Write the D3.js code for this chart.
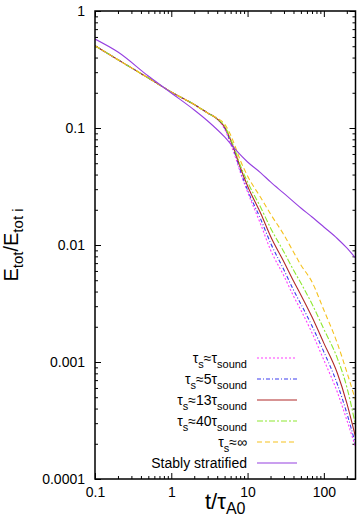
<!DOCTYPE html>
<html>
<head>
<meta charset="utf-8">
<script src="https://cdn.jsdelivr.net/npm/d3@7"></script>
<style>
  body { margin: 0; background: #fff; }
  svg { display: block; font-family: "Liberation Sans", Arial, sans-serif; }
</style>
</head>
<body>
<svg id="chart" width="358" height="521"></svg>
<script>
// sampled times (t / tau_A0)
var tEarly = [0.1, 0.2, 0.5, 1, 2, 3, 4];
var tLate = [5, 6, 7, 8, 10, 15, 20, 30, 40, 50, 70, 100, 150, 200, 260];

// common early decay of the five damped runs
var eEarly = [0.505, 0.3835, 0.2676, 0.2031, 0.1588, 0.1343, 0.1194];

var eTau1 = [0.0981, 0.0730, 0.0554, 0.0421, 0.0284, 0.0148, 0.00907, 0.00543, 0.00366, 0.00278, 0.00177, 0.00104, 0.000554, 0.000319, 0.000188];
var eTau5 = [0.1000, 0.0759, 0.0576, 0.0438, 0.0295, 0.0164, 0.0104, 0.00611, 0.00412, 0.00313, 0.00203, 0.00122, 0.000649, 0.000366, 0.000199];
var eTau13 = [0.1020, 0.0790, 0.0599, 0.0464, 0.0319, 0.0184, 0.0119, 0.00716, 0.00492, 0.00374, 0.00242, 0.00145, 0.000805, 0.000446, 0.000229];
var eTau40 = [0.1040, 0.0805, 0.0624, 0.0483, 0.0346, 0.0207, 0.0140, 0.00871, 0.00611, 0.00473, 0.00313, 0.00191, 0.00108, 0.000611, 0.000289];
var eTauInf = [0.1082, 0.0871, 0.0675, 0.0533, 0.0389, 0.0252, 0.0184, 0.0122, 0.00871, 0.00675, 0.00483, 0.00278, 0.00145, 0.000821, 0.000473];
var eEarlyInf = [0.505, 0.3835, 0.2676, 0.2031, 0.1588, 0.1343, 0.1217];

var tStrat = [0.1, 0.2, 0.5, 1, 2, 3, 5, 7, 10, 15, 20, 30, 50, 70, 100, 150, 200, 260];
var eStrat = [0.576, 0.446, 0.278, 0.199, 0.1425, 0.1148, 0.0838, 0.0649, 0.0512, 0.0412, 0.0346, 0.0276, 0.0207, 0.01735, 0.01425, 0.01137, 0.00943, 0.00774];

var seriesNames = ["τ_{s}≈τ_{sound}", "τ_{s}≈5τ_{sound}", "τ_{s}≈13τ_{sound}", "τ_{s}≈40τ_{sound}", "τ_{s}≈∞", "Stably stratified"];
var seriesColors = ["#ff3cff", "#3c3cf0", "#b02828", "#8ee830", "#f5c21e", "#9640e0"];
var seriesDash = ["2,2", "4,2,1,2", null, "6,2,2,2", "5,3", null];

var xTicks = [0.1, 1, 10, 100];
var yTicks = [1, 0.1, 0.01, 0.001, 0.0001];

var margin = {left: 95, right: 2.5, top: 11, bottom: 42};
var W = 358, H = 521;
var svg = d3.select("#chart");

var x = d3.scaleLog().domain([0.1, 260]).range([margin.left, W - margin.right]);
var y = d3.scaleLog().domain([0.0001, 1]).range([H - margin.bottom, margin.top]);

function zip(ts, es) { return ts.map(function(t, i) { return [t, es[i]]; }); }
var tAll = tEarly.concat(tLate);
var series = [
  zip(tAll, eEarly.concat(eTau1)),
  zip(tAll, eEarly.concat(eTau5)),
  zip(tAll, eEarly.concat(eTau13)),
  zip(tAll, eEarly.concat(eTau40)),
  zip(tAll, eEarlyInf.concat(eTauInf)),
  zip(tStrat, eStrat)
];

// minor ticks for log axes
function minors(lo, hi) {
  var out = [];
  for (var d = lo; d < hi; d *= 10)
    for (var k = 2; k <= 9; k++) if (d * k <= hi) out.push(d * k);
  return out;
}
var xMinor = minors(0.1, 260), yMinor = minors(0.0001, 1);

var x0 = margin.left, x1 = W - margin.right, y0 = H - margin.bottom, y1 = margin.top;

function styleAxis(g) {
  g.select(".domain").remove();
  g.selectAll("line").attr("stroke", "#000").attr("stroke-width", 1);
  g.selectAll("text").attr("font-size", 14).attr("fill", "#000");
}

svg.append("g").attr("transform", "translate(0," + y0 + ")")
  .call(d3.axisBottom(x).tickValues(xTicks).tickFormat(d3.format("~g")).tickSizeInner(-6).tickSizeOuter(0).tickPadding(8))
  .call(styleAxis);
svg.append("g").attr("transform", "translate(0," + y0 + ")")
  .call(d3.axisBottom(x).tickValues(xMinor).tickFormat("").tickSizeInner(-3).tickSizeOuter(0)).call(styleAxis);
svg.append("g").attr("transform", "translate(0," + y1 + ")")
  .call(d3.axisTop(x).tickValues(xTicks).tickFormat("").tickSizeInner(-6).tickSizeOuter(0)).call(styleAxis);
svg.append("g").attr("transform", "translate(0," + y1 + ")")
  .call(d3.axisTop(x).tickValues(xMinor).tickFormat("").tickSizeInner(-3).tickSizeOuter(0)).call(styleAxis);

svg.append("g").attr("transform", "translate(" + x0 + ",0)")
  .call(d3.axisLeft(y).tickValues(yTicks).tickFormat(d3.format("~g")).tickSizeInner(-6).tickSizeOuter(0).tickPadding(10))
  .call(styleAxis);
svg.append("g").attr("transform", "translate(" + x0 + ",0)")
  .call(d3.axisLeft(y).tickValues(yMinor).tickFormat("").tickSizeInner(-3).tickSizeOuter(0)).call(styleAxis);
svg.append("g").attr("transform", "translate(" + x1 + ",0)")
  .call(d3.axisRight(y).tickValues(yTicks).tickFormat("").tickSizeInner(-6).tickSizeOuter(0)).call(styleAxis);
svg.append("g").attr("transform", "translate(" + x1 + ",0)")
  .call(d3.axisRight(y).tickValues(yMinor).tickFormat("").tickSizeInner(-3).tickSizeOuter(0)).call(styleAxis);

svg.append("defs").append("clipPath").attr("id", "clip")
  .append("rect").attr("x", x0).attr("y", y1).attr("width", x1 - x0).attr("height", y0 - y1);

var line = d3.line().x(function(d) { return x(d[0]); }).y(function(d) { return y(d[1]); })
  .curve(d3.curveMonotoneX);

svg.append("g").attr("clip-path", "url(#clip)")
  .selectAll("path").data(series).enter().append("path")
  .attr("d", line)
  .attr("fill", "none")
  .attr("stroke", function(d, i) { return seriesColors[i]; })
  .attr("stroke-width", 1.1)
  .attr("stroke-dasharray", function(d, i) { return seriesDash[i]; });

// frame
svg.append("rect").attr("x", x0).attr("y", y1).attr("width", x1 - x0).attr("height", y0 - y1)
  .attr("fill", "none").attr("stroke", "#000").attr("stroke-width", 1.5);

// text with _{sub} markup
function richText(sel, str, subSize) {
  var parts = str.split(/(_\{[^}]*\})/).filter(function(p) { return p.length; });
  var shift = 0;
  parts.forEach(function(p) {
    if (p.indexOf("_{") === 0) {
      sel.append("tspan").attr("dy", 5 - shift).attr("font-size", subSize).text(p.slice(2, -1));
      shift = 5;
    } else {
      sel.append("tspan").attr("dy", -shift).text(p);
      shift = 0;
    }
  });
}

// legend
var leg = svg.append("g");
seriesNames.forEach(function(name, i) {
  var ly = 358 + i * 21;
  var t = leg.append("text").attr("x", 247).attr("y", ly + 5).attr("text-anchor", "end")
    .attr("font-size", 14).attr("fill", "#000");
  richText(t, name, 11);
  leg.append("line").attr("x1", 257).attr("x2", 297).attr("y1", ly).attr("y2", ly)
    .attr("stroke", seriesColors[i]).attr("stroke-width", 1.1)
    .attr("stroke-dasharray", seriesDash[i]);
});

// axis titles
var yt = svg.append("text").attr("transform", "translate(18," + ((y0 + y1) / 2) + ") rotate(-90)")
  .attr("text-anchor", "middle").attr("font-size", 20);
richText(yt, "E_{tot}/E_{tot i}", 15);

var xt = svg.append("text").attr("x", (x0 + x1) / 2).attr("y", 509)
  .attr("text-anchor", "middle").attr("font-size", 22);
richText(xt, "t/τ_{A0}", 16);
</script>
</body>
</html>
